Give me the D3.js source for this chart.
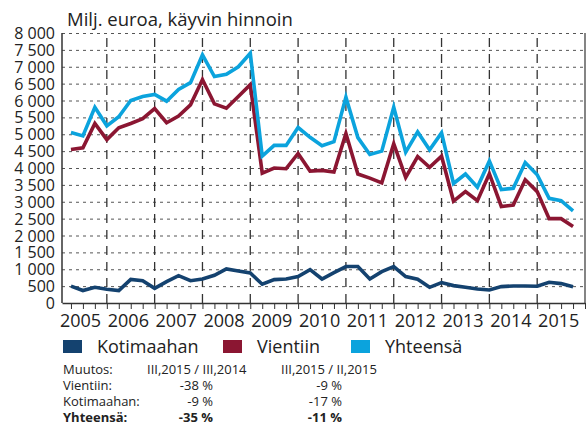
<!DOCTYPE html>
<html>
<head>
<meta charset="utf-8">
<script src="https://cdn.jsdelivr.net/npm/d3@7"></script>
<style>
  body { margin: 0; background: #fff; }
  svg { display: block; font-family: "Open Sans", sans-serif; }
  .grid line { stroke: #555; stroke-dasharray: 3,4; }
  .grid path { display: none; }
</style>
</head>
<body>
<div id="chart"></div>
<script>
// quarterly values 2005 Q1 .. 2015 Q3, milj. euroa
const years = [2005, 2006, 2007, 2008, 2009, 2010, 2011, 2012, 2013, 2014, 2015];
const kotimaahan = [500, 370, 465, 405, 370, 700, 660, 435, 635, 810, 660, 712,
  820, 1010, 950, 890, 555, 693, 712, 782, 990, 710, 900, 1080, 1080, 713, 930, 1080,
  782, 703, 465, 604, 515, 465, 416, 386, 485, 505, 505, 495, 614, 574, 485];
const vientiin = [4550, 4600, 5320, 4840, 5190, 5320, 5460, 5760, 5340, 5540, 5870, 6620,
  5900, 5770, 6120, 6470, 3850, 4000, 3980, 4430, 3910, 3930, 3880, 5020, 3820, 3700, 3560, 4720,
  3720, 4340, 4020, 4350, 3020, 3300, 3030, 3830, 2860, 2900, 3650, 3300, 2500, 2500, 2270];
const yhteensa = [5050, 4950, 5800, 5250, 5520, 6000, 6120, 6180, 5980, 6330, 6530, 7350,
  6710, 6780, 7000, 7400, 4350, 4670, 4670, 5200, 4910, 4660, 4780, 6100, 4900, 4400, 4500, 5800,
  4470, 5070, 4540, 5040, 3540, 3820, 3430, 4210, 3360, 3400, 4160, 3800, 3100, 3030, 2730];
const yTicks = [0, 500, 1000, 1500, 2000, 2500, 3000, 3500, 4000, 4500, 5000, 5500, 6000, 6500, 7000, 7500, 8000];

const seriesNames = ["Kotimaahan", "Vientiin", "Yhteensä"];
const seriesColors = ["#14426f", "#8b1632", "#0ba3dd"];

const tableHeader = ["Muutos:", "III,2015 / III,2014", "III,2015 / II,2015"];
const tableRows = [
  ["Vientiin:", "-38 %", "-9 %"],
  ["Kotimaahan:", "-9 %", "-17 %"],
  ["Yhteensä:", "-35 %", "-11 %"]
];

const width = 587, height = 426;
const plotLeft = 62, plotRight = 585, plotTop = 33, plotBottom = 303;

const svg = d3.select("#chart").append("svg")
  .attr("width", width).attr("height", height);

const x = d3.scaleLinear().domain([-0.75, 43]).range([plotLeft, plotRight]);
const y = d3.scaleLinear().domain([0, 8000]).range([plotBottom, plotTop]);

const fmt = d3.formatLocale({ decimal: ",", thousands: "\u00a0", grouping: [3], currency: ["", ""] }).format(",");

// horizontal dashed grid
svg.append("g").attr("class", "grid")
  .attr("transform", `translate(${plotLeft},0)`)
  .call(d3.axisLeft(y).tickValues(yTicks.slice(1)).tickSize(-(plotRight - plotLeft)).tickFormat(""));

// vertical dashed lines at each year's 4th quarter
const yearLines = years.slice(0, -1).map((d, i) => i * 4 + 3);
svg.append("g").selectAll("line").data(yearLines).join("line")
  .attr("x1", d => x(d)).attr("x2", d => x(d))
  .attr("y1", plotTop + 5).attr("y2", plotBottom)
  .attr("stroke", "#333").attr("stroke-width", 1.3)
  .attr("stroke-dasharray", "9,7");

// y labels
svg.append("g").selectAll("text").data(yTicks).join("text")
  .attr("x", 55).attr("y", d => y(d) + 6)
  .attr("text-anchor", "end")
  .attr("font-size", 16).attr("fill", "#222")
  .text(d => fmt(d));

// bottom axis with quarter ticks
const quarters = d3.range(0, 44);
svg.append("g")
  .attr("transform", `translate(0,${plotBottom})`)
  .call(d3.axisBottom(x).tickValues(quarters).tickSize(6).tickSizeOuter(0).tickFormat(""))
  .call(g => g.select(".domain").attr("stroke", "#333").attr("stroke-width", 1.5))
  .call(g => g.selectAll(".tick line").attr("stroke", "#333").attr("stroke-width", 1));

// left axis + right frame
svg.append("line").attr("x1", plotLeft).attr("x2", plotLeft).attr("y1", plotTop).attr("y2", plotBottom)
  .attr("stroke", "#333").attr("stroke-width", 1.5);
svg.append("line").attr("x1", plotRight).attr("x2", plotRight).attr("y1", plotTop).attr("y2", plotBottom)
  .attr("stroke", "#333").attr("stroke-width", 1.2);

// year labels
svg.append("g").selectAll("text").data(years).join("text")
  .attr("x", (d, i) => x(i * 4 + 0.8)).attr("y", 327)
  .attr("text-anchor", "middle")
  .attr("font-size", 18).attr("fill", "#222")
  .text(d => d);

// lines
const line = d3.line().x((d, i) => x(i)).y(d => y(d)).curve(d3.curveLinear);
[kotimaahan, vientiin, yhteensa].forEach((s, k) => {
  svg.append("path").datum(s)
    .attr("d", line)
    .attr("fill", "none")
    .attr("stroke", seriesColors[k])
    .attr("stroke-width", 3.6)
    .attr("stroke-linejoin", "miter");
});

// title
svg.append("text").attr("x", 67).attr("y", 26)
  .attr("font-size", 18.5).attr("fill", "#222")
  .text("Milj. euroa, käyvin hinnoin");

// legend
const legendX = [63, 223, 351];
const legend = svg.append("g").selectAll("g").data(seriesNames).join("g")
  .attr("transform", (d, i) => `translate(${legendX[i]},340)`);
legend.append("rect").attr("width", 19).attr("height", 13)
  .attr("fill", (d, i) => seriesColors[i]);
legend.append("text").attr("x", 34).attr("y", 12.5)
  .attr("font-size", 18).attr("fill", "#222")
  .text(d => d);

// change table
const tbl = svg.append("g").attr("font-size", 13).attr("fill", "#222");
tbl.append("text").attr("x", 63).attr("y", 374).text(tableHeader[0]);
tbl.append("text").attr("x", 147).attr("y", 374).text(tableHeader[1]);
tbl.append("text").attr("x", 281).attr("y", 374).text(tableHeader[2]);
tableRows.forEach((r, i) => {
  const yy = 390 + i * 16;
  const bold = i === tableRows.length - 1 ? "bold" : "normal";
  tbl.append("text").attr("x", 63).attr("y", yy).attr("font-weight", bold).text(r[0]);
  tbl.append("text").attr("x", 213).attr("y", yy).attr("text-anchor", "end").attr("font-weight", bold).text(r[1]);
  tbl.append("text").attr("x", 342).attr("y", yy).attr("text-anchor", "end").attr("font-weight", bold).text(r[2]);
});
</script>
</body>
</html>
